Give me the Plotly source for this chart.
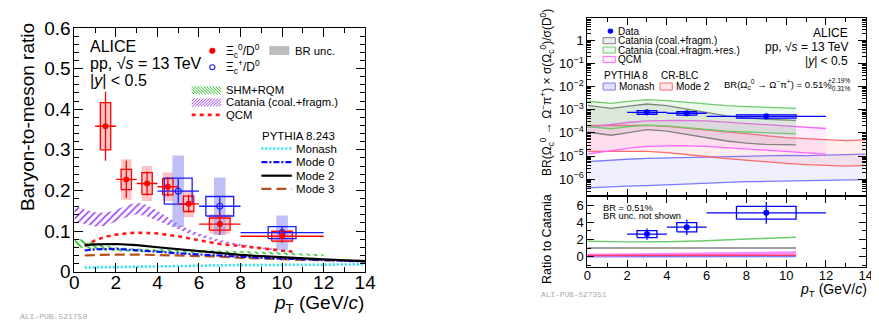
import math
import plotly.graph_objects as go

W, H = 879, 327
FONT = "Liberation Sans, Arial, Helvetica, sans-serif"
MONO = "Liberation Mono, DejaVu Sans Mono, monospace"

# ---------------- Left panel: Xi_c / D0 ----------------
xi0_pt = [1.5, 2.5, 3.5, 4.5, 5.5, 7.0, 10.0]
xi0_lo_edge = [1, 2, 3, 4, 5, 6, 8]
xi0_hi_edge = [2, 3, 4, 5, 6, 8, 12]
xi0_val = [0.358, 0.227, 0.217, 0.209, 0.167, 0.117, 0.087]
xi0_stat = [0.085, 0.046, 0.030, 0.024, 0.022, 0.027, 0.016]
xi0_syst = [0.058, 0.025, 0.027, 0.020, 0.019, 0.015, 0.012]
xi0_br = [0.058, 0.050, 0.043, 0.035, 0.033, 0.024, 0.016]

xip_pt = [5.0, 7.0, 10.0]
xip_lo_edge = [4, 6, 8]
xip_hi_edge = [6, 8, 12]
xip_val = [0.198, 0.161, 0.096]
xip_stat = [0.030, 0.022, 0.015]
xip_syst = [0.032, 0.024, 0.015]
xip_br = [0.088, 0.071, 0.042]

shm_pt = [0, 0.5, 1, 2, 3, 4, 6, 8, 10, 12]
shm_hi = [0.082, 0.078, 0.068, 0.060, 0.057, 0.055, 0.053, 0.051, 0.047, 0.042]
shm_lo = [0.060, 0.058, 0.053, 0.050, 0.048, 0.047, 0.046, 0.045, 0.042, 0.038]

catania_pt = [0, 0.5, 1, 1.5, 2, 2.5, 3, 3.5, 4, 4.5, 5, 5.5, 6, 7, 8, 9, 10, 10.5]
catania_hi = [0.162, 0.153, 0.146, 0.145, 0.152, 0.163, 0.170, 0.164, 0.150, 0.133,
              0.118, 0.104, 0.094, 0.078, 0.068, 0.060, 0.054, 0.052]
catania_lo = [0.124, 0.117, 0.111, 0.112, 0.122, 0.134, 0.141, 0.136, 0.125, 0.114,
              0.104, 0.094, 0.086, 0.072, 0.063, 0.056, 0.050, 0.048]

qcm_pt = [0.5, 1, 1.5, 2, 2.5, 3, 4, 5, 6, 7, 8, 9, 10, 10.5]
qcm_val = [0.063, 0.077, 0.086, 0.091, 0.094, 0.096, 0.094, 0.087, 0.077, 0.068,
           0.063, 0.057, 0.051, 0.049]

pythia_pt = [0.5, 1, 2, 3, 4, 5, 6, 7, 8, 9, 10, 11, 12, 13, 14]
monash = [0.010, 0.010, 0.011, 0.012, 0.013, 0.014, 0.015, 0.015, 0.016, 0.016,
          0.017, 0.017, 0.017, 0.018, 0.018]
mode0 = [0.052, 0.055, 0.056, 0.053, 0.049, 0.045, 0.042, 0.039, 0.037, 0.034,
         0.032, 0.030, 0.028, 0.026, 0.025]
mode2 = [0.065, 0.067, 0.068, 0.065, 0.060, 0.055, 0.050, 0.045, 0.041, 0.038,
         0.035, 0.032, 0.030, 0.028, 0.026]
mode3 = [0.040, 0.041, 0.042, 0.042, 0.041, 0.039, 0.038, 0.037, 0.034, 0.032,
         0.030, 0.029, 0.028, 0.027, 0.026]

# ---------------- Right panel: Omega_c ----------------
om_pt = [3.0, 5.0, 9.0]
om_lo_edge = [2, 4, 6]
om_hi_edge = [4, 6, 12]
om_val = [7.8e-4, 7.1e-4, 5.2e-4]
om_stat = [2.0e-4, 1.8e-4, 1.3e-4]
om_syst = [1.5e-4, 1.3e-4, 0.9e-4]

ratio_val = [2.63, 3.43, 5.11]
ratio_stat = [0.65, 0.90, 1.27]
ratio_syst = [0.41, 0.54, 0.75]

# model bands (log10 of BR x ratio)
cat_pt = [0, 0.5, 1.2, 2, 3, 4, 5, 6, 7, 8, 9, 10.5]
cat_hi_log = [-2.81, -2.86, -2.94, -2.85, -2.75, -2.82, -2.97, -3.13, -3.26, -3.35, -3.41, -3.46]
cat_lo_log = [-3.96, -4.01, -4.10, -4.00, -3.86, -3.92, -4.07, -4.22, -4.35, -4.44, -4.50, -4.52]
catres_hi_log = [-2.63, -2.66, -2.72, -2.64, -2.56, -2.60, -2.68, -2.76, -2.82, -2.86, -2.90, -2.94]
catres_lo_log = [-3.73, -3.76, -3.82, -3.74, -3.66, -3.70, -3.78, -3.86, -3.92, -3.96, -4.00, -4.04]

qcmr_pt = [0, 1, 2, 3, 4.5, 6, 8, 10, 12]
qcmr_hi_log = [-3.76, -3.65, -3.55, -3.48, -3.46, -3.48, -3.59, -3.72, -3.81]
qcmr_lo_log = [-4.92, -4.79, -4.67, -4.58, -4.55, -4.58, -4.70, -4.82, -4.92]

py8_pt = [0, 1, 2, 3, 4, 5, 6, 7, 8, 9, 10, 11, 12, 13, 14]
mode2r_hi_log = [-3.68, -3.67, -3.66, -3.67, -3.72, -3.80, -3.90, -3.99, -4.07, -4.14,
                 -4.20, -4.25, -4.30, -4.33, -4.30]
mode2r_lo_log = [-4.80, -4.80, -4.79, -4.80, -4.85, -4.92, -5.02, -5.11, -5.19, -5.26,
                 -5.32, -5.37, -5.41, -5.44, -5.40]
monashr_hi_log = [-5.24, -5.18, -5.14, -5.10, -5.08, -5.07, -5.05, -5.03, -5.00, -4.99,
                  -4.97, -4.98, -4.95, -4.93, -4.92]
monashr_lo_log = [-6.38, -6.33, -6.30, -6.28, -6.24, -6.20, -6.16, -6.13, -6.11, -6.10,
                  -6.08, -6.08, -6.05, -6.05, -6.02]

# ratio to Catania
rc_pt = [0, 2, 4, 6, 8, 10.5]
rc_catres = [1.80, 1.72, 1.74, 1.85, 2.05, 2.25]
rc_cat = [1, 1, 1, 1, 1, 1]
rc_qcm = [0.15, 0.20, 0.30, 0.38, 0.42, 0.45]
rc_mode2 = [0.13, 0.12, 0.12, 0.16, 0.17, 0.16]
rc_monash = [0.003, 0.004, 0.005, 0.008, 0.011, 0.014]

y_left_ticks = [0, 0.1, 0.2, 0.3, 0.4, 0.5, 0.6]
y_left_ticktext = ["0", "0.1", "0.2", "0.3", "0.4", "0.5", "0.6"]
y_log_ticks = [1e-6, 1e-5, 1e-4, 1e-3, 1e-2, 1e-1, 1]
y_log_ticktext = ["10<sup>−6</sup>", "10<sup>−5</sup>", "10<sup>−4</sup>", "10<sup>−3</sup>",
                  "10<sup>−2</sup>", "10<sup>−1</sup>", "1"]


# ---------------- helpers ----------------
def px(x):
    return x / W


def py(y):
    return 1 - y / H


def box_poly(xc, hw, lo, hi):
    xs, ys = [], []
    for c, h, l, u in zip(xc, hw, lo, hi):
        xs += [c - h, c + h, c + h, c - h, c - h, None]
        ys += [l, l, u, u, l, None]
    return xs, ys


def band(x, hi, lo):
    return list(x) + list(x)[::-1], list(hi) + list(lo)[::-1]


def pw(v):
    return [10 ** a for a in v]


fig = go.Figure()

# ---- left panel models ----
bx, by = band(catania_pt, catania_hi, catania_lo)
fig.add_trace(go.Scatter(x=bx, y=by, fill="toself", mode="lines", line=dict(width=0),
                         fillcolor="rgba(0,0,0,0)",
                         fillpattern=dict(shape="/", fgcolor="#a040f0", size=5, solidity=0.33,
                                          fillmode="replace"),
                         xaxis="x", yaxis="y", hoverinfo="skip"))
bx, by = band(shm_pt, shm_hi, shm_lo)
fig.add_trace(go.Scatter(x=bx, y=by, fill="toself", mode="lines", line=dict(width=0),
                         fillcolor="rgba(0,0,0,0)",
                         fillpattern=dict(shape="\\", fgcolor="#2fc42f", size=5, solidity=0.4,
                                          fillmode="replace"),
                         xaxis="x", yaxis="y", hoverinfo="skip"))
fig.add_trace(go.Scatter(x=qcm_pt, y=qcm_val, mode="lines",
                         line=dict(color="#ff1a1a", width=2.6, dash="4px,4px"),
                         xaxis="x", yaxis="y"))
fig.add_trace(go.Scatter(x=pythia_pt, y=monash, mode="lines",
                         line=dict(color="#22e0ee", width=2.6, dash="2px,2px"),
                         xaxis="x", yaxis="y"))
fig.add_trace(go.Scatter(x=pythia_pt, y=mode3, mode="lines",
                         line=dict(color="#b8501c", width=2.2, dash="10px,5px"),
                         xaxis="x", yaxis="y"))
fig.add_trace(go.Scatter(x=pythia_pt, y=mode0, mode="lines",
                         line=dict(color="#0a0aff", width=2.2, dash="6px,2px,2px,2px"),
                         xaxis="x", yaxis="y"))
fig.add_trace(go.Scatter(x=pythia_pt, y=mode2, mode="lines",
                         line=dict(color="black", width=2.2),
                         xaxis="x", yaxis="y"))

# ---- left panel data ----
red_hw = [min((h - l) / 4, 0.5) for l, h in zip(xi0_lo_edge, xi0_hi_edge)]
blue_hw = [0.67 for _ in xip_pt]
blue_br_hw = [0.28 for _ in xip_pt]

# BR unc. shading
sx, sy = box_poly(xi0_pt, red_hw, [v - e for v, e in zip(xi0_val, xi0_br)],
                  [v + e for v, e in zip(xi0_val, xi0_br)])
fig.add_trace(go.Scatter(x=sx, y=sy, fill="toself", mode="lines", line=dict(width=0),
                         fillcolor="rgba(245,150,150,0.55)", xaxis="x", yaxis="y"))
sx, sy = box_poly(xip_pt, blue_br_hw, [v - e for v, e in zip(xip_val, xip_br)],
                  [v + e for v, e in zip(xip_val, xip_br)])
fig.add_trace(go.Scatter(x=sx, y=sy, fill="toself", mode="lines", line=dict(width=0),
                         fillcolor="rgba(150,150,240,0.6)", xaxis="x", yaxis="y"))
# syst boxes
sx, sy = box_poly(xi0_pt, red_hw, [v - e for v, e in zip(xi0_val, xi0_syst)],
                  [v + e for v, e in zip(xi0_val, xi0_syst)])
fig.add_trace(go.Scatter(x=sx, y=sy, mode="lines", line=dict(color="#ff0000", width=1.3),
                         xaxis="x", yaxis="y"))
sx, sy = box_poly(xip_pt, blue_hw, [v - e for v, e in zip(xip_val, xip_syst)],
                  [v + e for v, e in zip(xip_val, xip_syst)])
fig.add_trace(go.Scatter(x=sx, y=sy, mode="lines", line=dict(color="#1a1aff", width=1.3),
                         xaxis="x", yaxis="y"))
# points
fig.add_trace(go.Scatter(
    x=xip_pt, y=xip_val, mode="markers",
    marker=dict(symbol="circle-open", size=6, color="#1a1aff", line=dict(width=1.2)),
    error_y=dict(type="data", array=xip_stat, color="#1a1aff", thickness=1.3, width=0),
    error_x=dict(type="data", array=[h - p for p, h in zip(xip_pt, xip_hi_edge)],
                 arrayminus=[p - l for p, l in zip(xip_pt, xip_lo_edge)],
                 color="#1a1aff", thickness=1.3, width=0),
    xaxis="x", yaxis="y"))
fig.add_trace(go.Scatter(
    x=xi0_pt, y=xi0_val, mode="markers",
    marker=dict(symbol="circle", size=6, color="#ff0000"),
    error_y=dict(type="data", array=xi0_stat, color="#ff0000", thickness=1.3, width=0),
    error_x=dict(type="data", array=[h - p for p, h in zip(xi0_pt, xi0_hi_edge)],
                 arrayminus=[p - l for p, l in zip(xi0_pt, xi0_lo_edge)],
                 color="#ff0000", thickness=1.3, width=0),
    xaxis="x", yaxis="y"))

# ---- right top: model bands ----
def add_band(x, hi_log, lo_log, color, fill, xa, ya):
    bx, by = band(x, pw(hi_log), pw(lo_log))
    fig.add_trace(go.Scatter(x=bx, y=by, fill="toself", mode="lines", line=dict(width=0),
                             fillcolor=fill, xaxis=xa, yaxis=ya, hoverinfo="skip"))
    fig.add_trace(go.Scatter(x=x, y=pw(hi_log), mode="lines", line=dict(color=color, width=1.3),
                             xaxis=xa, yaxis=ya))
    fig.add_trace(go.Scatter(x=x, y=pw(lo_log), mode="lines", line=dict(color=color, width=1.3),
                             xaxis=xa, yaxis=ya))


add_band(py8_pt, monashr_hi_log, monashr_lo_log, "#7a7aff", "rgba(120,120,255,0.12)", "x2", "y2")
add_band(py8_pt, mode2r_hi_log, mode2r_lo_log, "#ff6a6a", "rgba(255,110,110,0.12)", "x2", "y2")
add_band(qcmr_pt, qcmr_hi_log, qcmr_lo_log, "#ff66ff", "rgba(255,110,255,0.12)", "x2", "y2")
add_band(cat_pt, cat_hi_log, cat_lo_log, "#808080", "rgba(120,120,120,0.14)", "x2", "y2")
add_band(cat_pt, catres_hi_log, catres_lo_log, "#6ccc6c", "rgba(110,200,110,0.12)", "x2", "y2")

om_hw = [(h - l) / 4 for l, h in zip(om_lo_edge, om_hi_edge)]
sx, sy = box_poly(om_pt, om_hw, [v - e for v, e in zip(om_val, om_syst)],
                  [v + e for v, e in zip(om_val, om_syst)])
fig.add_trace(go.Scatter(x=sx, y=sy, fill="toself", mode="lines",
                         line=dict(color="#0000ff", width=1.2),
                         fillcolor="rgba(40,40,255,0.45)", xaxis="x2", yaxis="y2"))
fig.add_trace(go.Scatter(
    x=om_pt, y=om_val, mode="markers",
    marker=dict(symbol="circle", size=6, color="#0000ff"),
    error_y=dict(type="data", array=om_stat, color="#0000ff", thickness=1.3, width=0),
    error_x=dict(type="data", array=[h - p for p, h in zip(om_pt, om_hi_edge)],
                 arrayminus=[p - l for p, l in zip(om_pt, om_lo_edge)],
                 color="#0000ff", thickness=1.3, width=0),
    xaxis="x2", yaxis="y2"))

# ---- right bottom: ratio to Catania ----
for vals, col, wd in [(rc_monash, "#7a7aff", 1.6), (rc_qcm, "#ff88ff", 3.0),
                      (rc_mode2, "#ff3a6a", 1.6), (rc_cat, "#808080", 1.4),
                      (rc_catres, "#6ccc6c", 1.4)]:
    fig.add_trace(go.Scatter(x=rc_pt, y=vals, mode="lines", line=dict(color=col, width=wd),
                             xaxis="x3", yaxis="y3"))
sx, sy = box_poly(om_pt, om_hw, [v - e for v, e in zip(ratio_val, ratio_syst)],
                  [v + e for v, e in zip(ratio_val, ratio_syst)])
fig.add_trace(go.Scatter(x=sx, y=sy, mode="lines", line=dict(color="#0000ff", width=1.3),
                         xaxis="x3", yaxis="y3"))
fig.add_trace(go.Scatter(
    x=om_pt, y=ratio_val, mode="markers",
    marker=dict(symbol="circle", size=6, color="#0000ff"),
    error_y=dict(type="data", array=ratio_stat, color="#0000ff", thickness=1.3, width=0),
    error_x=dict(type="data", array=[h - p for p, h in zip(om_pt, om_hi_edge)],
                 arrayminus=[p - l for p, l in zip(om_pt, om_lo_edge)],
                 color="#0000ff", thickness=1.3, width=0),
    xaxis="x3", yaxis="y3"))

# ---------------- axes ----------------
common = dict(showline=True, linecolor="black", linewidth=1, mirror="ticks", ticks="inside",
              showgrid=False, zeroline=False, tickcolor="black", tickwidth=1)
fig.update_layout(
    xaxis=dict(common, domain=[px(62.5), px(358.7)], range=[0, 14], tick0=0, dtick=2,
               ticklen=9, minor=dict(dtick=1, ticklen=5, ticks="inside", tickcolor="black"),
               tickfont=dict(size=19), anchor="y", ticklabelstandoff=-6),
    yaxis=dict(common, domain=[py(271), py(10.7)], range=[0, 0.6], tickvals=y_left_ticks,
               ticktext=y_left_ticktext, ticklen=9,
               minor=dict(dtick=0.02, ticklen=5, ticks="inside", tickcolor="black"),
               tickfont=dict(size=19), anchor="x", ticklabelstandoff=-1),
    xaxis2=dict(common, domain=[px(585), px(868.5)], range=[0, 14], tick0=0, dtick=2,
                ticklen=7, minor=dict(dtick=1, ticklen=4, ticks="inside", tickcolor="black"),
                showticklabels=False, anchor="y2"),
    yaxis2=dict(common, type="log", domain=[py(190), 1.0], range=[-6.72, 0.97],
                tickvals=y_log_ticks, ticktext=y_log_ticktext, ticklen=8,
                minor=dict(dtick="D1", ticklen=4, ticks="inside", tickcolor="black"),
                tickfont=dict(size=13), anchor="x2", ticklabelstandoff=0),
    xaxis3=dict(common, domain=[px(585), px(868.5)], range=[0, 14], tick0=0, dtick=2,
                ticklen=7, minor=dict(dtick=1, ticklen=4, ticks="inside", tickcolor="black"),
                tickfont=dict(size=13), anchor="y3", ticklabelstandoff=-4),
    yaxis3=dict(common, domain=[py(266), py(190)], range=[-1.2, 7.09], tickvals=[0, 2, 4, 6],
                ticklen=7, minor=dict(dtick=1, ticklen=4, ticks="inside", tickcolor="black"),
                tickfont=dict(size=13), anchor="x3", ticklabelstandoff=0),
)

# ---------------- text ----------------
ann = []


def txt(x, y, s, size, xanchor="left", color="black", angle=0, family=FONT, yanchor="middle"):
    ann.append(dict(x=px(x), y=py(y), xref="paper", yref="paper", text=s, showarrow=False,
                    xanchor=xanchor, yanchor=yanchor, textangle=angle,
                    font=dict(size=size, color=color, family=family), borderpad=0))


# left panel
txt(14, 106, "Baryon-to-meson ratio", 19, xanchor="center", angle=-90)
txt(359, 306, "<i>p</i><sub>T</sub> (GeV/<i>c</i>)", 19, xanchor="right")
txt(77, 30, "ALICE", 16)
txt(77, 49, "pp, √<i>s</i> = 13 TeV", 16)
txt(77, 67, "|<i>y</i>| < 0.5", 16)
txt(216, 35, "Ξ<sub>c</sub><sup>0</sup>/D<sup>0</sup>", 12)
txt(216, 52, "Ξ<sub>c</sub><sup>+</sup>/D<sup>0</sup>", 12)
txt(286, 35, "BR unc.", 11.3)
txt(216, 77, "SHM+RQM", 11.3)
txt(216, 90, "Catania (coal.+fragm.)", 11.3)
txt(216, 103.5, "QCM", 11.3)
txt(253, 126, "PYTHIA 8.243", 11.5)
txt(287, 139.5, "Monash", 11.5)
txt(287, 154, "Mode 0", 11.5)
txt(287, 168.5, "Mode 2", 11.5)
txt(287, 182.5, "Mode 3", 11.5)
txt(6, 319, "ALI-PUB-521750", 8, color="#a8a8a8", family=MONO)

# right panel
txt(544, 80, "BR(Ω<sub>c</sub><sup>0</sup> → Ω<sup>−</sup>π<sup>+</sup>) × σ(Ω<sub>c</sub><sup>0</sup>)/σ(D<sup>0</sup>)",
    12, xanchor="center", angle=-90)
txt(544, 236, "Ratio to Catania", 12.5, xanchor="center", angle=-90)
txt(871, 291, "<i>p</i><sub>T</sub> (GeV/<i>c</i>)", 14, xanchor="right")
txt(615, 14, "Data", 10)
txt(615, 24, "Catania (coal.+fragm.)", 10)
txt(615, 34.3, "Catania (coal.+fragm.+res.)", 10)
txt(615, 44.5, "QCM", 10)
txt(600.5, 61.5, "PYTHIA 8", 10)
txt(659, 61.5, "CR-BLC", 10)
txt(616.5, 73, "Monash", 10)
txt(674, 73, "Mode 2", 10)
txt(851, 15.5, "ALICE", 12, xanchor="right")
txt(851, 31.5, "pp, √<i>s</i> = 13 TeV", 12, xanchor="right")
txt(851, 45.5, "|<i>y</i>| < 0.5", 12, xanchor="right")
txt(723, 71.5, "BR(Ω<sub>c</sub><sup>0</sup> → Ω<sup>−</sup>π<sup>+</sup>) = 0.51%", 9.5)
txt(829, 67, "+2.19%", 6.5)
txt(829, 75.5, "−0.31%", 6.5)
txt(600, 203, "BR = 0.51%", 9.3)
txt(600, 211.5, "BR unc. not shown", 9.3)
txt(537, 296, "ALI-PUB-527351", 7.8, color="#a8a8a8", family=MONO)

# ---------------- legend keys (shapes) ----------------
shapes = []


def rect(x0, y0, x1, y1, line, fill, lw=1):
    shapes.append(dict(type="rect", xref="paper", yref="paper", x0=px(x0), x1=px(x1),
                       y0=py(y1), y1=py(y0), line=dict(color=line, width=lw), fillcolor=fill))


def hline(x0, x1, y, color, width, dash="solid"):
    shapes.append(dict(type="line", xref="paper", yref="paper", x0=px(x0), x1=px(x1),
                       y0=py(y), y1=py(y), line=dict(color=color, width=width, dash=dash)))


def dot(x, y, r, color, filled=True):
    shapes.append(dict(type="circle", xref="paper", yref="paper", x0=px(x - r), x1=px(x + r),
                       y0=py(y + r), y1=py(y - r),
                       line=dict(color=color, width=1.1),
                       fillcolor=color if filled else "rgba(0,0,0,0)"))


def hatch(x0, y0, x1, y1, color, direction, step=3.0):
    parts = []
    if direction == "back":
        c = y0 - x1
        while c < y1 - x0:
            xa, xb = max(x0, y0 - c), min(x1, y1 - c)
            if xb > xa:
                parts.append(f"M{px(xa):.5f},{py(xa + c):.5f} L{px(xb):.5f},{py(xb + c):.5f}")
            c += step
    else:
        c = x0 + y0
        while c < x1 + y1:
            xa, xb = max(x0, c - y1), min(x1, c - y0)
            if xb > xa:
                parts.append(f"M{px(xa):.5f},{py(c - xa):.5f} L{px(xb):.5f},{py(c - xb):.5f}")
            c += step
    shapes.append(dict(type="path", xref="paper", yref="paper", path=" ".join(parts),
                       line=dict(color=color, width=1)))


dot(203, 35, 2.6, "#ff0000")
dot(203, 52.5, 2.6, "#1a1aff", filled=False)
rect(261, 30, 281.5, 39.5, "rgba(0,0,0,0)", "#bdbdbd", lw=0)
hatch(182, 73, 212, 81.5, "#2fc42f", "back")
hatch(182, 86, 212, 94.5, "#a040f0", "fwd")
hline(182, 212, 103.5, "#ff1a1a", 2.6, "4px,4px")
hline(253, 284, 139.5, "#22e0ee", 2.6, "2px,2px")
hline(253, 284, 154, "#0a0aff", 2.2, "6px,2px,2px,2px")
hline(253, 284, 168.5, "black", 2.2)
hline(253, 284, 182.5, "#b8501c", 2.2, "10px,5px")

dot(608.5, 14, 2.3, "#0000ff")
rect(601, 21, 613.5, 27.5, "#808080", "rgba(120,120,120,0.14)")
rect(601, 31, 613.5, 37.5, "#6ccc6c", "rgba(110,200,110,0.12)")
rect(601, 41, 613.5, 47.5, "#ff66ff", "rgba(255,110,255,0.12)")
rect(601, 69.5, 613.5, 77, "#7a7aff", "rgba(120,120,255,0.2)")
rect(659, 69.5, 671.5, 77, "#ff6a6a", "rgba(255,110,110,0.15)")

fig.update_layout(
    width=W, height=H, margin=dict(l=0, r=0, t=0, b=0),
    paper_bgcolor="white", plot_bgcolor="rgba(0,0,0,0)",
    showlegend=False, font=dict(family=FONT, color="black"),
    annotations=ann, shapes=shapes,
)

fig.write_html("out.html")
